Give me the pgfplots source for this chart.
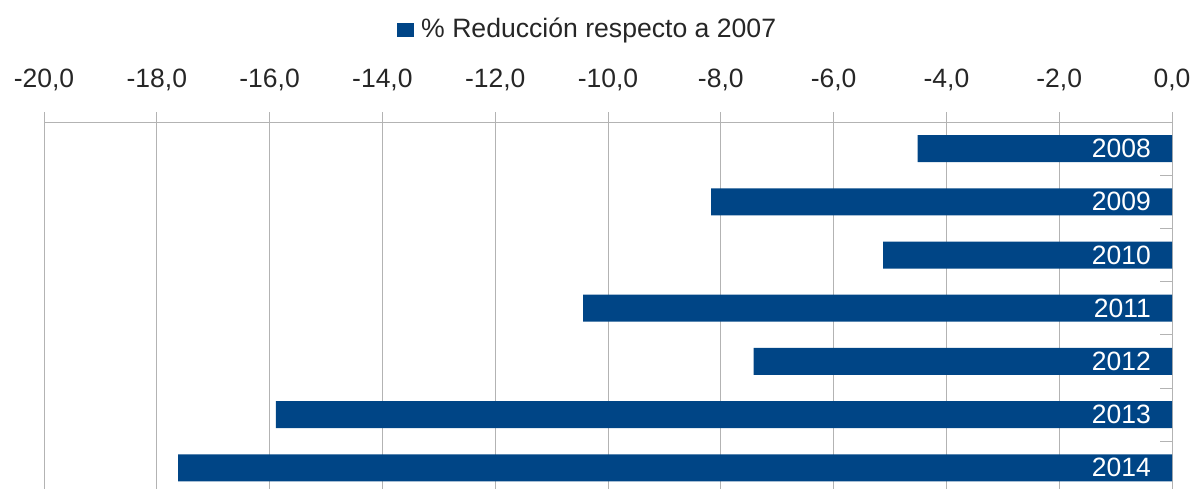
\documentclass[border=0pt]{standalone}
\usepackage{pgfplots}
\pgfplotsset{compat=1.18}
\usepackage{fontspec}
\setmainfont{Liberation Sans}
\definecolor{barblue}{HTML}{004586}
\definecolor{gridgray}{HTML}{B3B3B3}
\begin{document}
\begin{tikzpicture}
\useasboundingbox (0pt,0pt) rectangle (1193pt,-488pt);
\begin{scope}
\clip (0pt,0pt) rectangle (1193pt,-488pt);
\begin{axis}[
  at={(44pt,-122pt)}, anchor=north west,
  width=1128pt, height=372.4pt, scale only axis,
  xmin=-20, xmax=0, ymin=-0.5, ymax=6.5,
  axis x line=top, axis y line=right,
  axis line style={-, draw=gridgray, line width=1pt},
  xtick={-20,-18,...,0},
  xmajorgrids, grid style={gridgray, line width=1pt},
  tick align=outside, major tick length=10pt,
  tick style={gridgray, line width=1pt},
  ytick=\empty,
  /pgf/number format/.cd, fixed, fixed zerofill, precision=1, use comma, assume math mode=true,
  /pgfplots/.cd,
  xticklabel style={font=\fontsize{26.5}{30}\selectfont, text=black!85, anchor=base, inner sep=0pt, yshift=25pt},
  legend style={at={(axis description cs:0.482,1.25)}, anchor=center, draw=none, fill=none,
    font=\fontsize{26.6}{30}\selectfont, text=black!85},
  legend image code/.code={\fill[#1] (0pt,-8.5pt) rectangle (17pt,5.5pt); \path (22pt,0pt);},
]
\addplot[xbar, bar width=27pt, fill=barblue, draw=none] coordinates {
  (-4.51,6) (-8.17,5) (-5.12,4) (-10.44,3) (-7.42,2) (-15.89,1) (-17.62,0)
};
\addlegendentry{\% Reducción respecto a 2007}
\addplot[forget plot, draw=none, mark=none, nodes near coords, point meta=explicit symbolic,
  nodes near coords style={anchor=east, inner sep=0pt, xshift=-21pt, text=white,
    font=\fontsize{26.5}{30}\selectfont}] coordinates {
  (0,6) [2008] (0,5) [2009] (0,4) [2010] (0,3) [2011] (0,2) [2012] (0,1) [2013] (0,0) [2014]
};
\foreach \yy in {0.5,1.5,2.5,3.5,4.5,5.5}{
  \edef\tmp{\noexpand\draw[gridgray, line width=1pt] (axis cs:0,\yy) -- ++(-12pt,0pt);}\tmp
}
\end{axis}
\end{scope}
\end{tikzpicture}
\end{document}
